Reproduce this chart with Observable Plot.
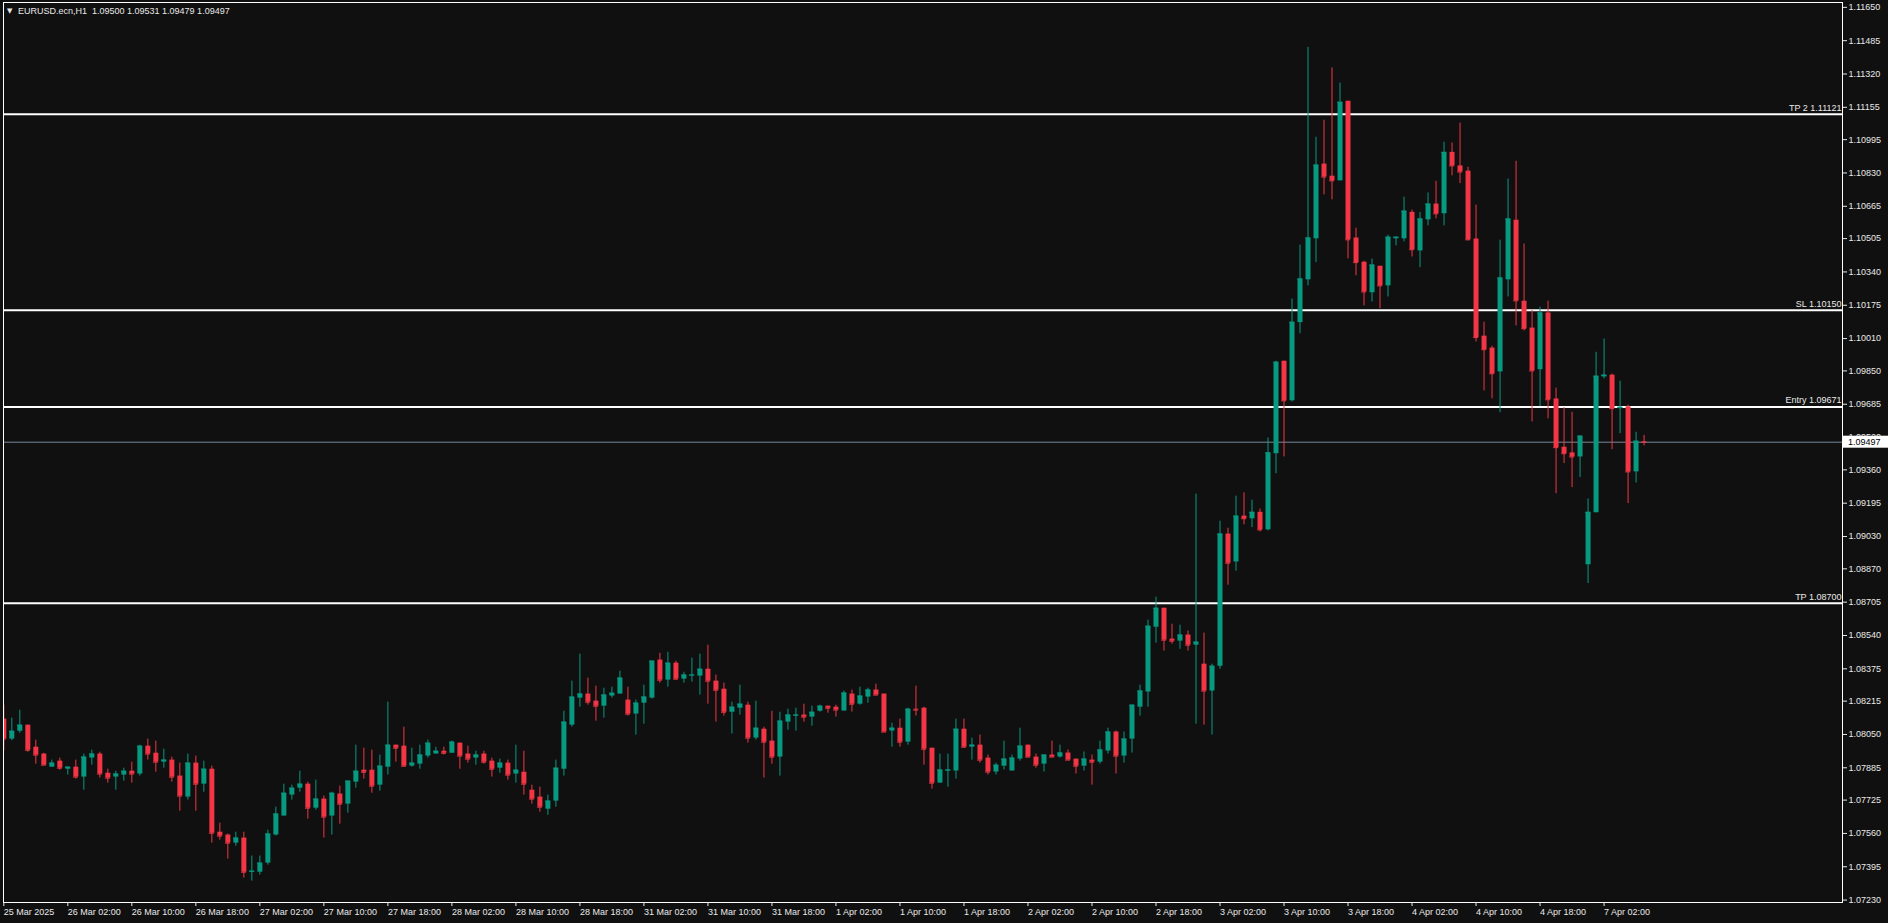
<!DOCTYPE html>
<html><head><meta charset="utf-8">
<script src="https://cdn.jsdelivr.net/npm/d3@7"></script>
<script src="https://cdn.jsdelivr.net/npm/@observablehq/plot@0.6"></script>
<style>
html,body{margin:0;padding:0;background:#101010;overflow:hidden}
#chart svg{display:block}
</style></head><body><div id="chart"></div>
<script>
const symbolTitle = "EURUSD.ecn,H1";
const lastBarOHLC = [1.09500, 1.09531, 1.09479, 1.09497];
const currentPrice = 1.09497;

const tickBars = [0, 8, 16, 24, 32, 40, 48, 56, 64, 72, 80, 88, 96, 104, 112, 120, 128, 136, 144, 152, 160, 168, 176, 184, 192, 200];
const tickLabels = ["25 Mar 2025", "26 Mar 02:00", "26 Mar 10:00", "26 Mar 18:00", "27 Mar 02:00", "27 Mar 10:00", "27 Mar 18:00", "28 Mar 02:00", "28 Mar 10:00", "28 Mar 18:00", "31 Mar 02:00", "31 Mar 10:00", "31 Mar 18:00", "1 Apr 02:00", "1 Apr 10:00", "1 Apr 18:00", "2 Apr 02:00", "2 Apr 10:00", "2 Apr 18:00", "3 Apr 02:00", "3 Apr 10:00", "3 Apr 18:00", "4 Apr 02:00", "4 Apr 10:00", "4 Apr 18:00", "7 Apr 02:00"];

const priceTicks = [1.11650, 1.11485, 1.11320, 1.11155, 1.10995, 1.10830, 1.10665, 1.10505, 1.10340, 1.10175, 1.10010, 1.09850, 1.09685, 1.09520, 1.09360, 1.09195, 1.09030, 1.08870, 1.08705, 1.08540, 1.08375, 1.08215, 1.08050, 1.07885, 1.07725, 1.07560, 1.07395, 1.07230];

const levelNames = ["TP 2", "SL", "Entry", "TP"];
const levelPrices = [1.11121, 1.10150, 1.09671, 1.08700];

const opens = [1.08126,1.08027,1.08066,1.08096,1.07987,1.07953,1.07888,1.07918,1.07878,1.07888,
1.07839,1.07933,1.07953,1.07858,1.07839,1.07849,1.07868,1.07854,1.07992,1.07957,
1.07913,1.07923,1.07844,1.07740,1.07908,1.07804,1.07878,1.07566,1.07552,1.07512,
1.07537,1.07368,1.07368,1.07413,1.07552,1.07646,1.07750,1.07784,1.07804,1.07685,
1.07730,1.07646,1.07755,1.07705,1.07814,1.07873,1.07873,1.07799,1.07888,1.07997,
1.07992,1.07893,1.07903,1.07943,1.07953,1.07967,1.07957,1.08007,1.07953,1.07933,
1.07953,1.07918,1.07883,1.07908,1.07854,1.07863,1.07774,1.07740,1.07680,1.07720,
1.07878,1.08096,1.08230,1.08250,1.08215,1.08190,1.08240,1.08250,1.08220,1.08151,
1.08205,1.08230,1.08418,1.08319,1.08403,1.08324,1.08340,1.08339,1.08373,1.08314,
1.08274,1.08160,1.08180,1.08195,1.08032,1.08076,1.08017,1.07938,1.08111,1.08141,
1.08146,1.08136,1.08165,1.08190,1.08185,1.08166,1.08250,1.08200,1.08235,1.08270,
1.08250,1.08067,1.08081,1.08012,1.08175,1.08180,1.07982,1.07809,1.07869,1.07869,
1.08076,1.07987,1.07997,1.07933,1.07864,1.07893,1.07869,1.07928,1.07997,1.07938,
1.07903,1.07948,1.07938,1.07958,1.07928,1.07893,1.07923,1.07913,1.07968,1.08062,
1.07943,1.08027,1.08185,1.08260,1.08581,1.08675,1.08522,1.08512,1.08542,1.08492,
1.08398,1.08265,1.08388,1.09042,1.08904,1.09131,1.09118,1.09150,1.09063,1.09440,
1.09898,1.09702,1.10089,1.10301,1.10504,1.10874,1.10814,1.10791,1.11185,1.10508,
1.10388,1.10237,1.10368,1.10271,1.10504,1.10504,1.10635,1.10444,1.10598,1.10676,
1.10628,1.10932,1.10865,1.10839,1.10503,1.10022,1.09963,1.09845,1.10301,1.10596,
1.10195,1.10062,1.09856,1.10137,1.09711,1.09472,1.09444,1.09424,1.08890,1.09148,
1.09820,1.09829,1.09663,1.09672,1.09350,1.09500];

const highs = [1.08195,1.08131,1.08170,1.08096,1.08022,1.07957,1.07923,1.07933,1.07888,1.07923,
1.07953,1.07972,1.07962,1.07878,1.07868,1.07883,1.07913,1.07997,1.08027,1.08017,
1.07977,1.07938,1.07908,1.07953,1.07943,1.07918,1.07893,1.07611,1.07557,1.07566,
1.07566,1.07448,1.07448,1.07576,1.07690,1.07804,1.07799,1.07868,1.07814,1.07824,
1.07745,1.07764,1.07794,1.07819,1.07997,1.07982,1.07972,1.07948,1.08210,1.07997,
1.08086,1.07982,1.07997,1.08022,1.07987,1.07987,1.08017,1.08007,1.07992,1.07967,
1.07967,1.07933,1.07928,1.07923,1.07997,1.07967,1.07799,1.07789,1.07750,1.07923,
1.08165,1.08314,1.08448,1.08329,1.08289,1.08279,1.08284,1.08363,1.08284,1.08220,
1.08294,1.08413,1.08452,1.08457,1.08413,1.08358,1.08428,1.08448,1.08492,1.08344,
1.08304,1.08210,1.08294,1.08210,1.08215,1.08086,1.08165,1.08160,1.08175,1.08180,
1.08200,1.08190,1.08195,1.08190,1.08195,1.08265,1.08270,1.08284,1.08279,1.08299,
1.08250,1.08106,1.08126,1.08180,1.08289,1.08185,1.07982,1.07953,1.07953,1.08126,
1.08126,1.08032,1.08047,1.07948,1.07908,1.08017,1.07948,1.08081,1.07997,1.07953,
1.07948,1.08017,1.07997,1.07973,1.07928,1.07963,1.07948,1.08017,1.08081,1.08067,
1.08062,1.08195,1.08294,1.08616,1.08730,1.08675,1.08596,1.08591,1.08562,1.09240,
1.08552,1.08398,1.09106,1.09071,1.09230,1.09246,1.09210,1.09166,1.09518,1.09898,
1.09898,1.10206,1.10473,1.11452,1.11007,1.11091,1.11350,1.11275,1.11185,1.10557,
1.10393,1.10404,1.10368,1.10522,1.10512,1.10710,1.10646,1.10635,1.10731,1.10789,
1.10982,1.10978,1.11077,1.10858,1.10671,1.10091,1.09972,1.10497,1.10800,1.10888,
1.10478,1.10149,1.10165,1.10195,1.09765,1.09668,1.09645,1.09527,1.09216,1.09942,
1.10008,1.09834,1.09799,1.09681,1.09546,1.09531];

const lows = [1.07969,1.08019,1.08056,1.07962,1.07903,1.07898,1.07888,1.07873,1.07849,1.07829,
1.07774,1.07898,1.07834,1.07809,1.07774,1.07819,1.07809,1.07844,1.07923,1.07863,
1.07883,1.07814,1.07670,1.07725,1.07670,1.07764,1.07512,1.07527,1.07433,1.07497,
1.07339,1.07324,1.07354,1.07403,1.07547,1.07646,1.07725,1.07764,1.07631,1.07675,
1.07537,1.07552,1.07606,1.07660,1.07784,1.07829,1.07759,1.07769,1.07849,1.07913,
1.07888,1.07888,1.07878,1.07933,1.07953,1.07948,1.07957,1.07878,1.07908,1.07898,
1.07903,1.07839,1.07858,1.07824,1.07809,1.07750,1.07705,1.07665,1.07650,1.07690,
1.07844,1.08086,1.08185,1.08195,1.08116,1.08131,1.08230,1.08250,1.08141,1.08047,
1.08101,1.08225,1.08304,1.08284,1.08319,1.08304,1.08309,1.08245,1.08200,1.08111,
1.08141,1.08052,1.08146,1.08007,1.08022,1.07834,1.07903,1.07844,1.08071,1.08066,
1.08111,1.08091,1.08160,1.08155,1.08136,1.08166,1.08161,1.08195,1.08205,1.08245,
1.08062,1.07987,1.07987,1.07997,1.08141,1.07898,1.07779,1.07809,1.07789,1.07829,
1.07982,1.07923,1.07908,1.07849,1.07849,1.07874,1.07869,1.07918,1.07938,1.07883,
1.07864,1.07938,1.07933,1.07923,1.07854,1.07869,1.07799,1.07903,1.07953,1.07854,
1.07908,1.07958,1.08141,1.08185,1.08502,1.08463,1.08497,1.08472,1.08463,1.08101,
1.08096,1.08047,1.08373,1.08789,1.08858,1.09088,1.09074,1.09053,1.09058,1.09341,
1.09424,1.09696,1.10034,1.10271,1.10386,1.10722,1.10697,1.10791,1.10405,1.10321,
1.10172,1.10191,1.10158,1.10216,1.10469,1.10489,1.10414,1.10361,1.10568,1.10603,
1.10568,1.10816,1.10777,1.10494,1.09993,1.09751,1.09712,1.09643,1.10216,1.10073,
1.10048,1.09597,1.09673,1.09613,1.09242,1.09391,1.09272,1.09322,1.08797,1.09148,
1.09810,1.09460,1.09539,1.09193,1.09295,1.09479];

const closes = [1.08027,1.08066,1.08096,1.07972,1.07948,1.07898,1.07908,1.07883,1.07888,1.07839,
1.07938,1.07953,1.07854,1.07834,1.07854,1.07868,1.07854,1.07992,1.07953,1.07913,
1.07923,1.07839,1.07745,1.07908,1.07804,1.07878,1.07561,1.07547,1.07512,1.07537,
1.07368,1.07373,1.07413,1.07557,1.07656,1.07759,1.07784,1.07804,1.07685,1.07730,
1.07641,1.07759,1.07705,1.07819,1.07868,1.07863,1.07794,1.07893,1.07997,1.07982,
1.07893,1.07908,1.07948,1.08007,1.07967,1.07957,1.08012,1.07943,1.07928,1.07948,
1.07913,1.07878,1.07908,1.07849,1.07873,1.07804,1.07730,1.07690,1.07720,1.07883,
1.08111,1.08235,1.08250,1.08210,1.08190,1.08245,1.08254,1.08329,1.08151,1.08205,
1.08235,1.08413,1.08319,1.08403,1.08324,1.08344,1.08344,1.08373,1.08314,1.08269,
1.08160,1.08185,1.08200,1.08032,1.08081,1.08012,1.07938,1.08116,1.08146,1.08146,
1.08136,1.08160,1.08190,1.08180,1.08171,1.08255,1.08200,1.08240,1.08270,1.08245,
1.08062,1.08081,1.08012,1.08175,1.08171,1.07977,1.07809,1.07874,1.07874,1.08076,
1.07987,1.07997,1.07923,1.07864,1.07898,1.07928,1.07933,1.07992,1.07938,1.07898,
1.07948,1.07938,1.07958,1.07923,1.07893,1.07928,1.07913,1.07973,1.08062,1.07943,
1.08027,1.08195,1.08265,1.08586,1.08675,1.08517,1.08512,1.08542,1.08492,1.08507,
1.08265,1.08388,1.09042,1.08898,1.09131,1.09118,1.09150,1.09063,1.09444,1.09893,
1.09702,1.10091,1.10305,1.10508,1.10869,1.10810,1.10791,1.11180,1.10499,1.10386,
1.10241,1.10374,1.10271,1.10512,1.10512,1.10641,1.10450,1.10602,1.10676,1.10628,
1.10932,1.10865,1.10835,1.10499,1.10015,1.09955,1.09836,1.10310,1.10602,1.10197,
1.10059,1.09850,1.10137,1.09707,1.09470,1.09440,1.09424,1.09527,1.09150,1.09824,
1.09829,1.09663,1.09670,1.09350,1.09502,1.09497];

const UP = "#089981", DOWN = "#f23645", TXT = "#e9e9e9";
const bars = opens.map((o, i) => ({i, open: o, high: highs[i], low: lows[i], close: closes[i],
  color: closes[i] >= o ? UP : DOWN}));
const levels = levelNames.map((n, k) => ({name: n, price: levelPrices[k]}));

const plot = Plot.plot({
  width: 1888, height: 923,
  marginLeft: 3, marginRight: 46, marginTop: 2, marginBottom: 21,
  style: {background: "#101010", color: TXT, fontFamily: "'Liberation Sans', Arial, sans-serif", fontSize: "9px"},
  x: {type: "linear", domain: [-0.04, 229.8]},
  y: {domain: [1.07218, 1.11674]},
  marks: [
    Plot.ruleY(levels, {y: "price", stroke: "white", strokeWidth: 2}),
    Plot.ruleY([currentPrice], {stroke: "#77879a", strokeWidth: 1}),
    Plot.ruleX(bars, {x: "i", y1: "low", y2: "high", stroke: "color", strokeWidth: 1, clip: true}),
    Plot.ruleX(bars, {x: "i", y1: "open", y2: "close", stroke: "color", strokeWidth: 5, clip: true}),
    Plot.ruleY(bars, {y: "close", x1: d => d.i - 0.3, x2: d => d.i + 0.32, stroke: "color", strokeWidth: 1, clip: true}),
    Plot.text(levels, {y: "price", frameAnchor: "right", text: d => `${d.name} ${d.price.toFixed(5)}`,
      textAnchor: "end", dx: -1, dy: -6.5, fill: TXT}),
    Plot.frame({stroke: "white", strokeWidth: 1}),
    Plot.axisY(priceTicks, {anchor: "right", tickFormat: d => d.toFixed(5), tickSize: 4, tickPadding: 2,
      stroke: TXT, fill: TXT, label: null}),
    Plot.axisX(tickBars, {anchor: "bottom", tickFormat: d => tickLabels[tickBars.indexOf(d)],
      textAnchor: "start", tickSize: 4, tickPadding: 2, stroke: TXT, fill: TXT, label: null})
  ]
});

const svg = d3.select(plot);
const yS = plot.scale("y");
const yc = yS.apply(currentPrice);
svg.append("rect").attr("x", 1843).attr("y", yc - 6).attr("width", 45).attr("height", 12).attr("fill", "white");
svg.append("text").attr("x", 1848).attr("y", yc + 3.3).attr("fill", "#000").attr("text-anchor", "start")
  .style("font", "9px 'Liberation Sans', Arial, sans-serif").text(currentPrice.toFixed(5));

svg.append("text").attr("x", 7).attr("y", 13).attr("fill", TXT).attr("text-anchor", "start")
  .style("font", "7px 'DejaVu Sans', sans-serif").text("▼");
svg.append("text").attr("x", 18).attr("y", 14).attr("fill", TXT).attr("text-anchor", "start")
  .attr("xml:space", "preserve")
  .style("font", "9px 'Liberation Sans', Arial, sans-serif").style("white-space", "pre")
  .text(symbolTitle + "  " + lastBarOHLC.map(v => v.toFixed(5)).join(" "));

document.getElementById("chart").appendChild(plot);
</script></body></html>
